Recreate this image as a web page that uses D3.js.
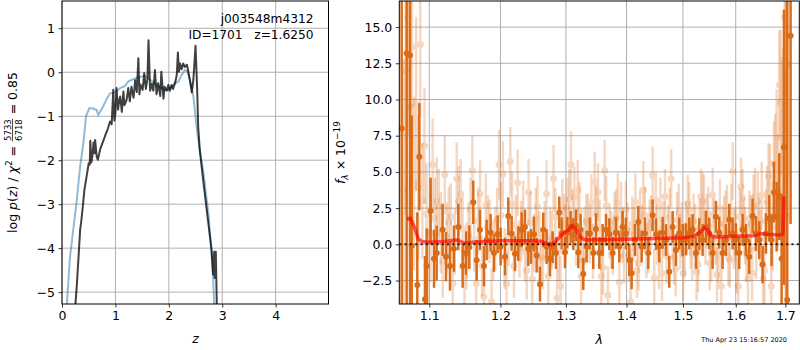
<!DOCTYPE html>
<html>
<head>
<meta charset="utf-8">
<script src="https://cdn.jsdelivr.net/npm/d3@7"></script>
<style>
  body { margin: 0; background: #fff; }
  text { font-family: "DejaVu Sans", sans-serif; fill: #000; }
</style>
</head>
<body>
<div id="chart"></div>
<script>
// ---- left panel: redshift PDF ----
const pzBlueZ = [0.06, 0.10, 0.15, 0.18, 0.27, 0.34, 0.40, 0.45, 0.51, 0.57, 0.65, 0.68, 0.77, 0.84, 0.90, 0.99, 1.09, 1.18, 1.24, 1.33, 1.46, 1.55, 1.65, 1.77, 1.90, 1.99, 2.08, 2.18, 2.24, 2.30, 2.35, 2.39, 2.46, 2.52, 2.57, 2.65, 2.74, 2.80, 2.83, 2.85, 2.88];
const pzBlueV = [-6.2, -5.1, -4.2, -3.89, -2.98, -2.14, -1.61, -1.0, -0.82, -0.82, -0.86, -0.97, -0.78, -0.60, -0.48, -0.46, -0.36, -0.31, -0.21, -0.16, -0.11, -0.08, -0.17, -0.29, -0.39, -0.41, -0.29, -0.21, -0.06, 0.05, 0.02, -0.14, -0.55, -1.24, -1.69, -2.3, -3.2, -4.1, -4.72, -5.3, -6.0];

const pzDarkZ = [0.22, 0.28, 0.31, 0.34, 0.36, 0.39, 0.42, 0.47, 0.50, 0.52, 0.53, 0.55, 0.57, 0.59, 0.61, 0.62, 0.65, 0.67, 0.72, 0.78, 0.82, 0.86, 0.90, 0.93, 0.96, 0.98, 1.00, 1.02, 1.05, 1.07, 1.09, 1.12, 1.15, 1.17, 1.21, 1.24, 1.27, 1.30, 1.34, 1.37, 1.40, 1.43, 1.45, 1.47, 1.51, 1.54, 1.57, 1.60, 1.62, 1.65, 1.68, 1.71, 1.74, 1.77, 1.80, 1.84, 1.86, 1.90, 1.92, 1.96, 1.99, 2.02, 2.05, 2.08, 2.13, 2.15, 2.17, 2.19, 2.21, 2.24, 2.27, 2.30, 2.34, 2.37, 2.40, 2.43, 2.46, 2.50, 2.53, 2.55, 2.58, 2.65, 2.74, 2.80, 2.83, 2.85, 2.86, 2.88, 2.90, 2.91];
const pzDarkV = [-5.8, -4.8, -4.19, -3.58, -3.4, -3.05, -2.67, -2.3, -2.07, -2.1, -1.56, -2.05, -1.9, -1.6, -1.84, -1.54, -1.92, -1.99, -1.73, -1.54, -1.40, -1.28, -1.12, -1.18, -0.40, -1.10, -0.93, -0.36, -0.85, -0.65, -0.55, -0.90, -0.44, -0.75, -0.63, -0.36, -0.66, -0.33, -0.58, -0.18, -0.45, 0.32, -0.50, -0.28, -0.40, -0.02, -0.38, -0.15, 0.73, -0.42, -0.26, -0.42, 0.05, -0.50, -0.25, -0.54, 0.01, -0.60, -0.33, -0.42, -0.29, -0.42, -0.29, -0.38, -0.18, -0.05, 0.45, 0.01, 0.20, 0.07, 0.20, 0.12, 0.17, -0.02, -0.22, -0.46, -0.17, 0.60, -0.35, -1.24, -1.77, -2.52, -3.43, -4.04, -4.6, -4.08, -4.68, -4.08, -5.4, -6.0];

const zTicks = [0, 1, 2, 3, 4];
const pTicks = [-5, -4, -3, -2, -1, 0, 1];

// ---- right panel: spectrum ----
const darkLam = [1.0635, 1.0700, 1.0744, 1.0766, 1.0840, 1.0867, 1.0942, 1.0965, 1.1018, 1.1064, 1.1100, 1.1181, 1.1227, 1.1282, 1.1337, 1.1397, 1.1458, 1.1505, 1.1552, 1.1608, 1.1656, 1.1703, 1.1761, 1.1799, 1.1857, 1.1905, 1.1959, 1.2003, 1.2067, 1.2116, 1.2165, 1.2215, 1.2265, 1.2315, 1.2365, 1.2416, 1.2456, 1.2502, 1.2543, 1.2594, 1.2645, 1.2697, 1.2749, 1.2791, 1.2843, 1.2895, 1.2932, 1.2985, 1.3022, 1.3075, 1.3118, 1.3161, 1.3198, 1.3236, 1.3279, 1.3333, 1.3388, 1.3442, 1.3486, 1.3542, 1.3597, 1.3653, 1.3708, 1.3764, 1.3820, 1.3877, 1.3933, 1.3990, 1.4047, 1.4088, 1.4145, 1.4203, 1.4261, 1.4319, 1.4378, 1.4454, 1.4513, 1.4572, 1.4632, 1.4691, 1.4751, 1.4812, 1.4872, 1.4933, 1.4994, 1.5055, 1.5117, 1.5178, 1.5240, 1.5302, 1.5365, 1.5428, 1.5491, 1.5554, 1.5617, 1.5681, 1.5745, 1.5809, 1.5874, 1.5939, 1.6004, 1.6069, 1.6135, 1.6201, 1.6267, 1.6333, 1.6400, 1.6467, 1.6534, 1.6602, 1.6670, 1.6717, 1.6765, 1.6820, 1.6875, 1.6923, 1.6971, 1.7040, 1.7110];
const darkFlux = [8.0, 13.2, 13.06, -0.1, -2.8, 6.05, -3.8, -1.5, 2.3, -1.0, -0.6, 1.0, -0.85, -1.5, -0.3, 1.2, -1.5, -0.6, -0.2, 2.9, -1.1, 1.0, -1.5, 0.3, 0.8, -0.6, 0.7, -0.15, -0.85, 1.95, 0.75, -0.65, 0.05, 1.0, 1.2, -0.3, -0.15, 0.7, -0.75, -2.75, 1.0, -0.15, -1.0, -0.2, -0.6, 2.2, 0.75, -0.55, 0.8, 1.2, 0.7, 1.3, -0.55, 1.0, -2.05, -0.15, 0.75, -0.6, 1.05, -0.6, 0.3, 1.0, 0.7, -0.6, 0.8, -0.15, 1.2, 0.75, -1.1, -2.0, 0.3, 1.55, -0.15, 0.75, -0.6, 2.0, 0.7, -0.15, 0.8, 0.3, -1.9, 1.2, -0.4, 0.75, 0.3, 0.35, 0.75, 1.0, -0.6, 0.7, 0.3, 1.2, 0.75, -0.6, 1.9, 0.8, -0.6, 0.3, 1.7, 0.75, 0.35, -0.6, 1.0, 0.3, -0.85, 1.95, 0.75, 0.3, -1.4, 0.75, 1.8, 0.3, 3.6, 1.9, 3.3, -1.0, 6.7, -3.85, 14.4];
const darkErr = [30, 20, 20, 9, 5, 3.7, 3.0, 2.6, 2.3, 2.0, 1.9, 1.8, 1.7, 1.7, 1.6, 1.6, 1.5, 1.5, 1.5, 1.5, 1.4, 1.4, 1.4, 1.4, 1.3, 1.3, 1.3, 1.3, 1.3, 1.3, 1.2, 1.2, 1.2, 1.2, 1.2, 1.2, 1.2, 1.2, 1.2, 1.2, 1.2, 1.2, 1.2, 1.1, 1.1, 1.1, 1.1, 1.1, 1.1, 1.1, 1.1, 1.1, 1.1, 1.1, 1.1, 1.1, 1.1, 1.1, 1.1, 1.1, 1.1, 1.1, 1.1, 1.1, 1.1, 1.1, 1.1, 1.1, 1.1, 1.1, 1.1, 1.1, 1.1, 1.1, 1.1, 1.1, 1.1, 1.1, 1.1, 1.1, 1.1, 1.1, 1.1, 1.1, 1.1, 1.1, 1.1, 1.1, 1.1, 1.1, 1.1, 1.1, 1.1, 1.1, 1.1, 1.1, 1.1, 1.1, 1.1, 1.1, 1.1, 1.1, 1.1, 1.1, 1.2, 1.2, 1.2, 1.3, 1.3, 1.4, 1.6, 1.8, 2.1, 2.4, 3.0, 4.5, 9.5, 25, 13];

const lightLam = [1.0660, 1.0715, 1.0770, 1.0825, 1.0880, 1.0935, 1.0990, 1.1045, 1.1100, 1.1155, 1.1210, 1.1265, 1.1320, 1.1375, 1.1430, 1.1485, 1.1540, 1.1595, 1.1650, 1.1705, 1.1760, 1.1815, 1.1870, 1.1925, 1.1980, 1.2035, 1.2090, 1.2145, 1.2200, 1.2255, 1.2310, 1.2365, 1.2420, 1.2475, 1.2530, 1.2585, 1.2640, 1.2695, 1.2750, 1.2805, 1.2860, 1.2915, 1.2970, 1.3025, 1.3080, 1.3135, 1.3190, 1.3245, 1.3300, 1.3355, 1.3410, 1.3465, 1.3520, 1.3575, 1.3630, 1.3685, 1.3740, 1.3795, 1.3850, 1.3905, 1.3960, 1.4015, 1.4070, 1.4125, 1.4180, 1.4235, 1.4290, 1.4345, 1.4400, 1.4455, 1.4510, 1.4565, 1.4620, 1.4675, 1.4730, 1.4785, 1.4840, 1.4895, 1.4950, 1.5005, 1.5060, 1.5115, 1.5170, 1.5225, 1.5280, 1.5335, 1.5390, 1.5445, 1.5500, 1.5555, 1.5610, 1.5665, 1.5720, 1.5775, 1.5830, 1.5885, 1.5940, 1.5995, 1.6050, 1.6105, 1.6160, 1.6215, 1.6270, 1.6325, 1.6380, 1.6435, 1.6490, 1.6545, 1.6600, 1.6655, 1.6710, 1.6765, 1.6820, 1.6875, 1.6930, 1.6985, 1.7040];
const lightFlux = [3.8, 15.6, 13.6, 9.7, 13.8, 6.8, -2.45, 5.5, 3.0, 0.8, 4.8, 1.5, -2.7, 4.55, 3.5, -2.2, 0.6, 5.1, -2.7, 3.5, -3.6, 1.2, -3.95, 0.4, 5.5, 4.85, -2.7, 5.7, -1.5, 4.25, 0.9, -0.5, 3.6, -2.4, 1.8, 0.2, -1.0, 3.5, 0.5, 4.55, -3.7, -2.9, 1.4, 2.5, 5.5, 3.25, 3.75, -2.2, 0.6, 1.5, 2.85, 4.3, 3.6, -2.2, 5.1, -3.5, 0.3, 1.6, 2.9, 2.35, -0.8, 1.0, -3.95, 0.7, -1.8, 1.9, 3.75, -0.4, 1.2, 4.75, 3.05, -1.2, -2.0, 3.3, 0.8, 4.55, -0.9, 1.7, 0.2, -2.0, 1.1, 2.4, -0.6, 0.9, -1.4, 3.3, 2.9, 1.6, -1.3, 3.4, 0.5, -0.8, -2.9, 1.4, 2.2, -1.1, 5.05, 0.7, -2.9, 4.0, 1.3, -0.7, 1.8, -2.0, 3.3, 2.95, 0.4, -2.35, 1.6, 4.7, -2.9, 5.6, 7.4, 11.0, 8.1, 15.7, 12.4];
const lightErr = [9, 8, 7, 6, 5, 4, 3.5, 3.2, 3.0, 2.8, 2.7, 2.5, 2.5, 2.5, 2.4, 2.3, 2.3, 2.4, 2.3, 2.3, 2.3, 2.2, 2.3, 2.2, 2.4, 2.3, 2.2, 2.4, 2.2, 2.3, 2.1, 2.1, 2.3, 2.1, 2.1, 2.1, 2.1, 2.3, 2.1, 2.3, 2.1, 2.1, 2.1, 2.1, 2.3, 2.1, 2.1, 2.1, 2.0, 2.0, 2.0, 2.1, 2.0, 2.0, 2.1, 2.0, 2.0, 2.0, 2.0, 2.0, 1.9, 1.9, 2.0, 1.9, 1.9, 1.9, 2.0, 1.9, 1.9, 2.0, 1.9, 1.9, 1.9, 1.9, 1.9, 2.0, 1.9, 1.9, 1.9, 1.9, 1.9, 1.9, 1.9, 1.9, 1.9, 1.9, 1.9, 1.9, 1.9, 1.9, 1.9, 1.9, 1.9, 1.9, 1.9, 1.9, 2.0, 1.9, 1.9, 2.0, 1.9, 1.9, 1.9, 1.9, 2.0, 2.0, 2.0, 2.1, 2.2, 2.3, 2.6, 2.9, 3.3, 3.8, 4.8, 6, 8];

const light2Lam = [1.06875, 1.07425, 1.07975, 1.08525, 1.09075, 1.09625, 1.10175, 1.10725, 1.11275, 1.11825, 1.12375, 1.12925, 1.13475, 1.14025, 1.14575, 1.15125, 1.15675, 1.16225, 1.16775, 1.17325, 1.17875, 1.18425, 1.18975, 1.19525, 1.20075, 1.20625, 1.21175, 1.21725, 1.22275, 1.22825, 1.23375, 1.23925, 1.24475, 1.25025, 1.25575, 1.26125, 1.26675, 1.27225, 1.27775, 1.28325, 1.28875, 1.29425, 1.29975, 1.30525, 1.31075, 1.31625, 1.32175, 1.32725, 1.33275, 1.33825, 1.34375, 1.34925, 1.35475, 1.36025, 1.36575, 1.37125, 1.37675, 1.38225, 1.38775, 1.39325, 1.39875, 1.40425, 1.40975, 1.41525, 1.42075, 1.42625, 1.43175, 1.43725, 1.44275, 1.44825, 1.45375, 1.45925, 1.46475, 1.47025, 1.47575, 1.48125, 1.48675, 1.49225, 1.49775, 1.50325, 1.50875, 1.51425, 1.51975, 1.52525, 1.53075, 1.53625, 1.54175, 1.54725, 1.55275, 1.55825, 1.56375, 1.56925, 1.57475, 1.58025, 1.58575, 1.59125, 1.59675, 1.60225, 1.60775, 1.61325, 1.61875, 1.62425, 1.62975, 1.63525, 1.64075, 1.64625, 1.65175, 1.65725, 1.66275, 1.66825, 1.67375, 1.67925, 1.68475, 1.69025, 1.69575, 1.70125];
const light2Flux = [12.0, 9.5, 4.2, 3.9, 3.0, 2.1, 0.75, 1.8, 2.6, -1.2, 0.5, 1.9, 0.2, 3.0, 1.1, -0.8, 2.4, 0.3, 1.6, -1.5, 2.7, 0.9, -0.4, 1.7, 2.0, -1.0, 0.6, 2.8, 1.3, -0.3, 2.2, -1.8, 1.5, 0.1, 2.6, -0.9, 1.0, -2.2, 0.3, 1.9, -0.5, 2.5, 0.8, 3.1, 1.8, 0.4, 2.3, -1.1, 1.6, 0.7, -0.5, 2.1, 1.2, -1.6, 2.7, 0.9, -0.2, 1.8, -2.6, 0.6, 2.4, -0.7, 1.4, 2.9, -1.3, 0.8, 2.0, -0.1, 1.5, -2.3, 0.9, 2.6, 1.1, -0.8, 1.9, 0.4, -1.7, 2.2, 1.0, -0.4, 2.8, 0.2, 1.6, -1.9, 1.2, 3.0, 0.5, 2.1, -0.6, 1.3, -2.1, 2.5, 0.7, 1.8, -0.9, 2.3, 0.3, -1.5, 1.9, 3.2, 0.6, -2.4, 1.4, 2.7, -0.3, 1.1, 3.4, -1.8, 2.9, 4.2, 1.2, 5.5, 3.6, 9.8, 6.5, 2.0];
const light2Err = [10, 8, 6, 5, 4, 3.5, 3.0, 2.8, 2.6, 2.5, 2.4, 2.3, 2.3, 2.4, 2.2, 2.3, 2.2, 2.2, 2.3, 2.1, 2.2, 2.2, 2.1, 2.2, 2.3, 2.1, 2.1, 2.2, 2.1, 2.0, 2.2, 2.0, 2.1, 2.0, 2.1, 2.0, 2.0, 2.1, 2.0, 2.0, 2.1, 2.0, 2.0, 2.1, 2.0, 1.9, 2.0, 2.0, 1.9, 2.0, 1.9, 2.0, 1.9, 1.9, 2.0, 1.9, 1.9, 2.0, 1.9, 1.9, 2.0, 1.9, 1.9, 2.0, 1.9, 1.9, 2.0, 1.9, 1.9, 2.0, 1.9, 2.0, 1.9, 1.9, 2.0, 1.9, 1.9, 2.0, 1.9, 1.9, 2.0, 1.9, 1.9, 2.0, 1.9, 2.0, 1.9, 1.9, 2.0, 1.9, 1.9, 2.0, 1.9, 1.9, 2.0, 1.9, 2.0, 1.9, 2.0, 2.0, 2.0, 2.1, 2.0, 2.1, 2.1, 2.2, 2.3, 2.4, 2.5, 2.7, 3.0, 3.5, 4.0, 5.0, 7, 10];

const modelLam = [1.070, 1.075, 1.080, 1.085, 1.090, 1.100, 1.120, 1.138, 1.142, 1.147, 1.160, 1.200, 1.250, 1.262, 1.270, 1.276, 1.282, 1.290, 1.298, 1.305, 1.310, 1.315, 1.320, 1.326, 1.332, 1.400, 1.450, 1.500, 1.520, 1.532, 1.540, 1.546, 1.552, 1.562, 1.600, 1.640, 1.650, 1.660, 1.690, 1.695, 1.697];
const modelFlux = [1.75, 1.8, 1.2, 0.4, 0.2, 0.15, 0.2, 0.3, 0.22, 0.1, 0.15, 0.25, 0.25, 0.2, 0.05, -0.05, 0.1, 0.5, 0.85, 1.0, 1.3, 1.1, 0.7, 0.4, 0.3, 0.35, 0.4, 0.45, 0.55, 0.85, 1.15, 1.0, 0.6, 0.5, 0.55, 0.6, 0.75, 0.7, 0.65, 0.7, 3.3];

const lamTicks = [1.1, 1.2, 1.3, 1.4, 1.5, 1.6, 1.7];
const fTicks = [-2.5, 0, 2.5, 5, 7.5, 10, 12.5, 15];

const specColor = "#d9660f";
const FS = 12.5;

const svg = d3.select("#chart").append("svg")
  .attr("width", 800)
  .attr("height", 350);

const zX = d3.scaleLinear().domain([0, 4.99]).range([62, 328.5]);
const pY = d3.scaleLinear().domain([-5.27, 1.62]).range([304, 1]);
const lamX = d3.scaleLog().domain([1.0604, 1.7293]).range([399.3, 799.3]);
const fY = d3.scaleLinear().domain([-4.12, 16.8]).range([304, 1]);

const defs = svg.append("defs");
function clip(id, x, y) {
  defs.append("clipPath").attr("id", id).append("rect")
    .attr("x", x.range()[0]).attr("y", y.range()[1])
    .attr("width", x.range()[1] - x.range()[0])
    .attr("height", y.range()[0] - y.range()[1]);
}
clip("clipL", zX, pY);
clip("clipR", lamX, fY);

function grid(x, y, xt, yt) {
  const g = svg.append("g").attr("stroke", "#b0b0b0").attr("stroke-width", 1);
  g.selectAll(".gx").data(xt).enter().append("line")
    .attr("x1", d => x(d)).attr("x2", d => x(d))
    .attr("y1", y.range()[0]).attr("y2", y.range()[1]);
  g.selectAll(".gy").data(yt).enter().append("line")
    .attr("x1", x.range()[0]).attr("x2", x.range()[1])
    .attr("y1", d => y(d)).attr("y2", d => y(d));
}

function axes(x, y, xt, yt, xf, yf) {
  const bottom = y.range()[0];
  const left = x.range()[0];
  const ax = svg.append("g").attr("transform", `translate(0,${bottom})`)
    .call(d3.axisBottom(x).tickValues(xt).tickFormat(xf).tickSize(3.5).tickPadding(3.5));
  const ay = svg.append("g").attr("transform", `translate(${left},0)`)
    .call(d3.axisLeft(y).tickValues(yt).tickFormat(yf).tickSize(3.5).tickPadding(3.5));
  [ax, ay].forEach(a => {
    a.select(".domain").remove();
    a.selectAll("text").style("font-family", "DejaVu Sans").style("font-size", FS + "px");
    a.selectAll("line").attr("stroke", "#000").attr("stroke-width", 0.8);
  });
  svg.append("rect")
    .attr("x", x.range()[0]).attr("y", y.range()[1])
    .attr("width", x.range()[1] - x.range()[0])
    .attr("height", y.range()[0] - y.range()[1])
    .attr("fill", "none").attr("stroke", "#000").attr("stroke-width", 1);
}

// ---- left panel ----
grid(zX, pY, zTicks, pTicks);

const gl = svg.append("g").attr("clip-path", "url(#clipL)");
const line = d3.line();
gl.append("path")
  .attr("d", line(pzBlueZ.map((z, i) => [zX(z), pY(pzBlueV[i])])))
  .attr("fill", "none").attr("stroke", "#1f77b4").attr("stroke-opacity", 0.5)
  .attr("stroke-width", 2);
gl.append("path")
  .attr("d", line(pzDarkZ.map((z, i) => [zX(z), pY(pzDarkV[i])])))
  .attr("fill", "none").attr("stroke", "#000").attr("stroke-opacity", 0.75)
  .attr("stroke-width", 2).attr("stroke-linejoin", "round");

axes(zX, pY, zTicks, pTicks, d3.format("d"), d3.format("d"));

svg.append("text").attr("x", 313.5).attr("y", 23).attr("text-anchor", "end")
  .style("font-size", "12.2px").text("j003548m4312");
svg.append("text").attr("x", 313.5).attr("y", 38.5).attr("text-anchor", "end")
  .style("font-size", "12.2px").attr("xml:space", "preserve").text("ID=1701   z=1.6250");

svg.append("text").attr("x", zX(2.5)).attr("y", 343).attr("text-anchor", "middle")
  .style("font-size", FS + "px").style("font-style", "italic").text("z");

// y label of left panel with a small fraction
const yl = svg.append("g").attr("transform", "translate(16.5,152.5) rotate(-90)");
const ylIn = yl.append("g");
const t1 = ylIn.append("text").style("font-size", FS + "px");
t1.append("tspan").text("log ");
t1.append("tspan").style("font-style", "italic").text("p");
t1.append("tspan").text("(");
t1.append("tspan").style("font-style", "italic").text("z");
t1.append("tspan").text(") / ");
t1.append("tspan").style("font-style", "italic").text("χ");
t1.append("tspan").attr("dy", -5).style("font-size", "9px").text("2");
t1.append("tspan").attr("dy", 5).attr("xml:space", "preserve").text(" = ");
const w1 = t1.node().getComputedTextLength();
const num = ylIn.append("text").attr("x", w1 + 1).attr("y", -5.5)
  .style("font-size", "8.5px").text("5733");
const fw = num.node().getComputedTextLength();
ylIn.append("text").attr("x", w1 + 1).attr("y", 5)
  .style("font-size", "8.5px").text("6718");
ylIn.append("line").attr("x1", w1 + 0.5).attr("x2", w1 + fw + 1.5)
  .attr("y1", -4).attr("y2", -4).attr("stroke", "#000").attr("stroke-width", 0.7);
const t3 = ylIn.append("text").attr("x", w1 + fw + 2).style("font-size", FS + "px")
  .attr("xml:space", "preserve").text(" = 0.85");
const wAll = w1 + fw + 2 + t3.node().getComputedTextLength();
ylIn.attr("transform", `translate(${-wAll / 2},0)`);

// ---- right panel ----
grid(lamX, fY, lamTicks, fTicks);

const gr = svg.append("g").attr("clip-path", "url(#clipR)");

// faint spectra
function errSeries(lam, flux, err, opts) {
  const g = gr.append("g").attr("opacity", opts.opacity);
  g.selectAll("line").data(lam).enter().append("line")
    .attr("x1", d => lamX(d)).attr("x2", d => lamX(d))
    .attr("y1", (d, i) => fY(flux[i] - err[i]))
    .attr("y2", (d, i) => fY(flux[i] + err[i]))
    .attr("stroke", specColor).attr("stroke-width", opts.lw);
  g.selectAll("circle").data(lam).enter().append("circle")
    .attr("cx", d => lamX(d)).attr("cy", (d, i) => fY(flux[i]))
    .attr("r", opts.r).attr("fill", specColor);
}
errSeries(lightLam, lightFlux, lightErr, {opacity: 0.25, lw: 2.5, r: 3.5});
errSeries(light2Lam, light2Flux, light2Err, {opacity: 0.25, lw: 2.5, r: 3.5});
errSeries(darkLam, darkFlux, darkErr, {opacity: 0.95, lw: 2.5, r: 3});

// model
gr.append("path")
  .attr("d", line(modelLam.map((l, i) => [lamX(l), fY(modelFlux[i])])))
  .attr("fill", "none").attr("stroke", "red").attr("stroke-opacity", 0.65)
  .attr("stroke-width", 3.5).attr("stroke-linejoin", "round");

// zero line
gr.append("line")
  .attr("x1", lamX.range()[0]).attr("x2", lamX.range()[1])
  .attr("y1", fY(0)).attr("y2", fY(0))
  .attr("stroke", "#000").attr("stroke-width", 2).attr("stroke-dasharray", "2,3.3")
  .attr("stroke-opacity", 0.8);

axes(lamX, fY, lamTicks, fTicks, d3.format(".1f"), d3.format(".1f"));

svg.append("text").attr("x", lamX(Math.sqrt(1.0604 * 1.7293))).attr("y", 344).attr("text-anchor", "middle")
  .style("font-size", FS + "px").style("font-style", "italic").text("λ");

const yr = svg.append("text").attr("transform", "translate(345,152.5) rotate(-90)")
  .attr("text-anchor", "middle").style("font-size", FS + "px");
yr.append("tspan").style("font-style", "italic").text("f");
yr.append("tspan").attr("dy", 3).style("font-style", "italic").style("font-size", "9px").text("λ");
yr.append("tspan").attr("dy", -3).attr("xml:space", "preserve").text(" × 10");
yr.append("tspan").attr("dy", -5).style("font-size", "9px").text("−19");

svg.append("text").attr("x", 787).attr("y", 342).attr("text-anchor", "end")
  .style("font-size", "6.5px").text("Thu Apr 23 15:16:57 2020");
</script>
</body>
</html>
